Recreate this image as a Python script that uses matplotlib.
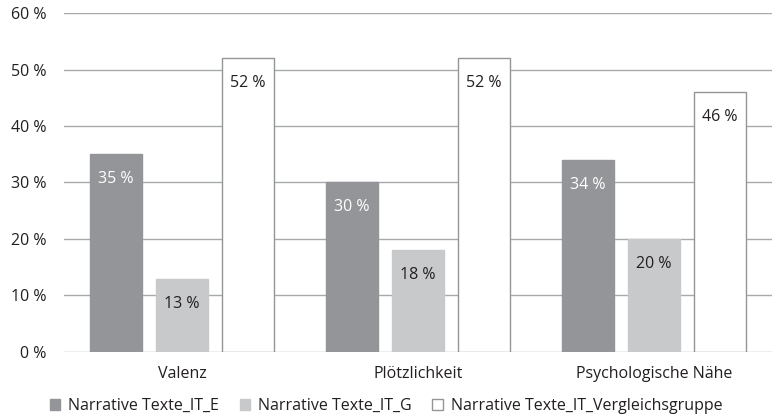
import matplotlib.pyplot as plt
import numpy as np

plt.rcParams['font.family'] = ['Open Sans', 'DejaVu Sans']

categories = ['Valenz', 'Plötzlichkeit', 'Psychologische Nähe']
series = ['Narrative Texte_IT_E', 'Narrative Texte_IT_G', 'Narrative Texte_IT_Vergleichsgruppe']
values = [
    [35, 30, 34],
    [13, 18, 20],
    [52, 52, 46],
]
yticks = [0, 10, 20, 30, 40, 50, 60]

colors = ['#939598', '#c8c9cb', '#ffffff']
edges = ['#939598', '#c8c9cb', '#939598']
text_colors = ['white', '#231f20', '#231f20']


def main():
    fig = plt.figure(figsize=(7.72, 4.2), dpi=100)
    ax = fig.add_axes([0.083, 0.162, 0.917, 0.807])

    x = np.arange(len(categories))
    width = 0.22
    step = 0.28
    for i, vals in enumerate(values):
        pos = x + (i - 1) * step
        bars = ax.bar(pos, vals, width, color=colors[i], edgecolor=edges[i],
                      linewidth=1.0, label=series[i], zorder=3)
        for b, v in zip(bars, vals):
            ax.annotate(f'{v} %', (b.get_x() + b.get_width() / 2, v),
                        xytext=(0, -18), textcoords='offset points',
                        ha='center', va='center', fontsize=11.5,
                        color=text_colors[i], zorder=4)

    ax.set_xlim(-0.5, 2.5)
    ax.set_ylim(0, 60)
    ax.set_yticks(yticks)
    ax.set_yticklabels([f'{t} %' for t in yticks], fontsize=11.5, color='#231f20')
    ax.set_xticks(x)
    ax.set_xticklabels(categories, fontsize=11.5, color='#231f20')
    ax.tick_params(axis='y', length=0, pad=13)
    ax.tick_params(axis='x', length=0, pad=10)
    ax.grid(axis='y', color='#a7a9ac', linewidth=1.0, zorder=0)
    for s in ax.spines.values():
        s.set_visible(False)

    fig.legend(loc='lower center', bbox_to_anchor=(0.5, -0.02), ncol=3,
               frameon=False, fontsize=11.5, handlelength=0.65, handleheight=0.65,
               handletextpad=0.5, columnspacing=1.3, labelcolor='#231f20')

    fig.savefig('out.png', dpi=100)


main()
